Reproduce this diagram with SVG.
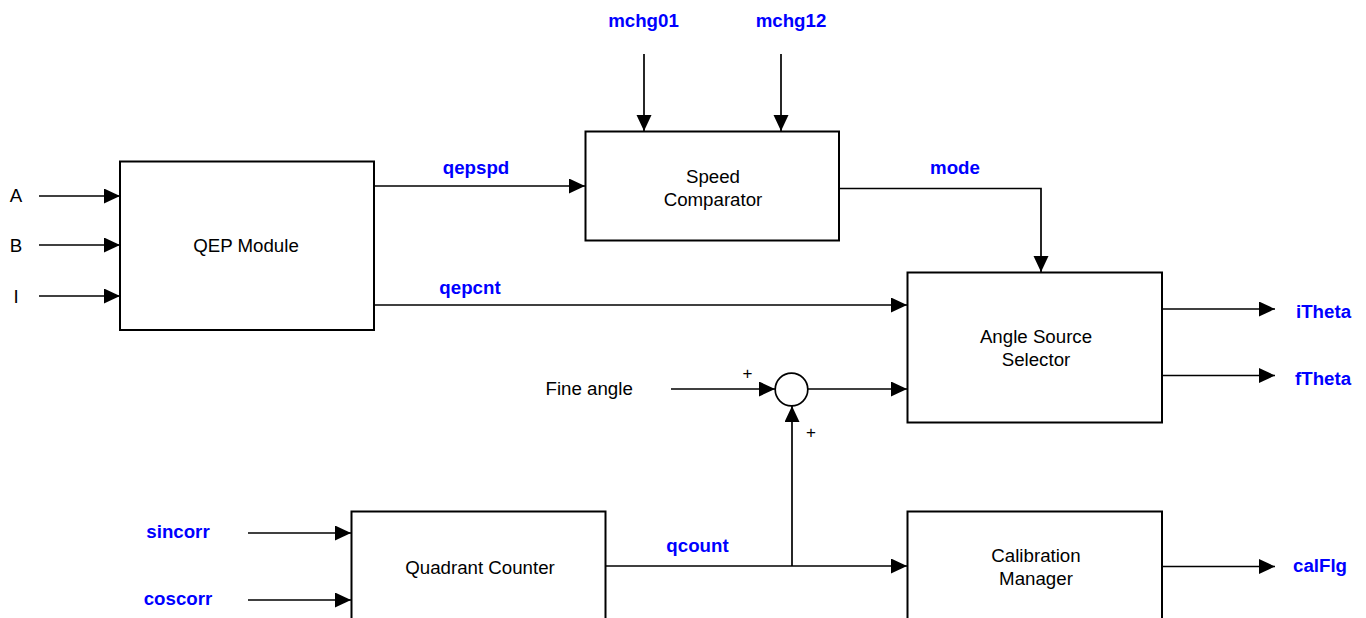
<svg xmlns="http://www.w3.org/2000/svg" width="1366" height="618" viewBox="0 0 1366 618">
<style>
.box{fill:#fff;stroke:#000;stroke-width:2}
.ln{fill:none;stroke:#000;stroke-width:1.7}
.t{font-family:"Liberation Sans",Arial,sans-serif;font-size:18.7px;fill:#000}
.c{text-anchor:middle}
.b{font-family:"Liberation Sans",Arial,sans-serif;font-size:18.7px;font-weight:bold;fill:#0000ff}
.p{font-family:"Liberation Sans",Arial,sans-serif;font-size:17px;fill:#000;text-anchor:middle}
</style>
<defs>
<marker id="ah" markerUnits="userSpaceOnUse" markerWidth="16" markerHeight="16" refX="16" refY="7.5" orient="auto">
<path d="M0,0 L16,7.5 L0,15 z" fill="#000"/>
</marker>
</defs>
<rect width="1366" height="618" fill="#fff"/>
<g id="connectors">
<line class="ln" x1="39" y1="196" x2="120" y2="196" marker-end="url(#ah)"/>
<line class="ln" x1="39" y1="245" x2="120" y2="245" marker-end="url(#ah)"/>
<line class="ln" x1="39" y1="296" x2="120" y2="296" marker-end="url(#ah)"/>
<line class="ln" x1="374" y1="186" x2="585" y2="186" marker-end="url(#ah)"/>
<line class="ln" x1="374" y1="305" x2="907" y2="305" marker-end="url(#ah)"/>
<line class="ln" x1="644" y1="54" x2="644" y2="131" marker-end="url(#ah)"/>
<line class="ln" x1="781" y1="54" x2="781" y2="131" marker-end="url(#ah)"/>
<polyline class="ln" points="839,188.5 1041,188.5 1041,272" marker-end="url(#ah)"/>
<line class="ln" x1="1162" y1="309" x2="1275" y2="309" marker-end="url(#ah)"/>
<line class="ln" x1="1162" y1="375.5" x2="1275" y2="375.5" marker-end="url(#ah)"/>
<line class="ln" x1="1162" y1="566.5" x2="1275" y2="566.5" marker-end="url(#ah)"/>
<line class="ln" x1="671" y1="389" x2="775" y2="389" marker-end="url(#ah)"/>
<line class="ln" x1="808" y1="389" x2="907" y2="389" marker-end="url(#ah)"/>
<line class="ln" x1="606" y1="566" x2="907" y2="566" marker-end="url(#ah)"/>
<line class="ln" x1="792" y1="566" x2="792" y2="406" marker-end="url(#ah)"/>
<line class="ln" x1="248" y1="533" x2="351" y2="533" marker-end="url(#ah)"/>
<line class="ln" x1="248" y1="600" x2="351" y2="600" marker-end="url(#ah)"/>
</g>
<g id="qep">
<rect class="box" x="120" y="161.5" width="254" height="168.5"/>
<text class="t c" x="246" y="251.5">QEP Module</text>
</g>
<g id="speed">
<rect class="box" x="585.5" y="131.5" width="253.5" height="109"/>
<text class="t c" x="713" y="183">Speed</text>
<text class="t c" x="713" y="205.5">Comparator</text>
</g>
<g id="angle">
<rect class="box" x="907.5" y="272.5" width="254.5" height="150"/>
<text class="t c" x="1036" y="343">Angle Source</text>
<text class="t c" x="1036" y="366">Selector</text>
</g>
<g id="quadrant">
<rect class="box" x="351.5" y="511.5" width="254" height="120"/>
<text class="t c" x="480" y="573.5">Quadrant Counter</text>
</g>
<g id="calib">
<rect class="box" x="907.5" y="511.5" width="254.5" height="120"/>
<text class="t c" x="1036" y="561.5">Calibration</text>
<text class="t c" x="1036" y="585">Manager</text>
</g>
<g id="sum">
<circle cx="791.5" cy="389.5" r="16.3" fill="#fff" stroke="#000" stroke-width="1.7"/>
<text class="p" x="747.5" y="379">+</text>
<text class="p" x="811" y="438">+</text>
</g>
<g id="labels">
<text class="t c" x="16" y="202">A</text>
<text class="t c" x="16" y="252">B</text>
<text class="t c" x="16" y="303">I</text>
<text class="t" x="545.5" y="394.5">Fine angle</text>
<text class="b c" x="643.5" y="26.5">mchg01</text>
<text class="b c" x="791" y="26.5">mchg12</text>
<text class="b c" x="476" y="174">qepspd</text>
<text class="b c" x="470" y="294">qepcnt</text>
<text class="b c" x="955" y="173.5">mode</text>
<text class="b c" x="697.5" y="551.5">qcount</text>
<text class="b c" x="178" y="538">sincorr</text>
<text class="b c" x="178" y="605">coscorr</text>
<text class="b" x="1296" y="318">iTheta</text>
<text class="b" x="1295" y="385">fTheta</text>
<text class="b" x="1293" y="571.5">calFlg</text>
</g>
</svg>
